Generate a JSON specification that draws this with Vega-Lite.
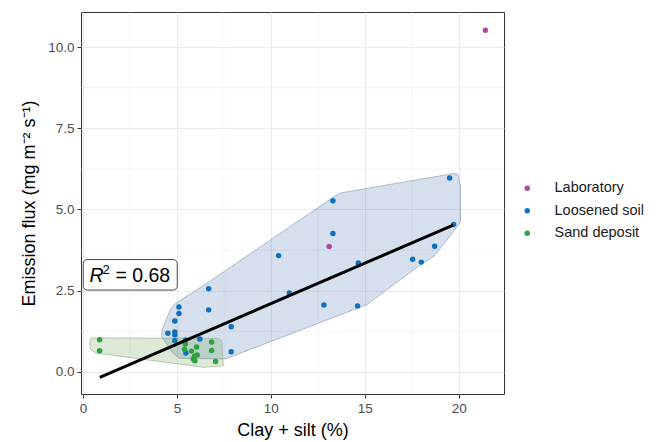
{
  "$schema": "https://vega.github.io/schema/vega-lite/v6.json",
  "autosize": "none",
  "width": 423,
  "height": 382,
  "padding": {"left": 81, "top": 12, "right": 158, "bottom": 48},
  "background": "white",
  "config": {
    "font": "Liberation Sans",
    "view": {"stroke": "#333333", "strokeWidth": 1},
    "axis": {
      "gridColor": "#ebebeb", "gridWidth": 1.1, "domain": false,
      "tickColor": "#333333", "tickSize": 4, "labelColor": "#4d4d4d",
      "labelFontSize": 13.5, "titleFontSize": 18, "titleFontWeight": "normal",
      "titleColor": "#000000", "labelPadding": 3
    }
  },
  "datasets": {
    "points": [
      {"x": 19.51, "y": 5.97, "type": "Loosened soil"},
      {"x": 19.72, "y": 4.54, "type": "Loosened soil"},
      {"x": 13.30, "y": 5.27, "type": "Loosened soil"},
      {"x": 13.30, "y": 4.26, "type": "Loosened soil"},
      {"x": 10.41, "y": 3.58, "type": "Loosened soil"},
      {"x": 18.71, "y": 3.87, "type": "Loosened soil"},
      {"x": 17.54, "y": 3.47, "type": "Loosened soil"},
      {"x": 18.00, "y": 3.38, "type": "Loosened soil"},
      {"x": 14.65, "y": 3.35, "type": "Loosened soil"},
      {"x": 10.98, "y": 2.43, "type": "Loosened soil"},
      {"x": 12.82, "y": 2.06, "type": "Loosened soil"},
      {"x": 14.61, "y": 2.03, "type": "Loosened soil"},
      {"x": 6.69, "y": 2.56, "type": "Loosened soil"},
      {"x": 6.69, "y": 1.91, "type": "Loosened soil"},
      {"x": 5.11, "y": 2.00, "type": "Loosened soil"},
      {"x": 5.11, "y": 1.80, "type": "Loosened soil"},
      {"x": 4.89, "y": 1.57, "type": "Loosened soil"},
      {"x": 4.52, "y": 1.19, "type": "Loosened soil"},
      {"x": 4.89, "y": 1.23, "type": "Loosened soil"},
      {"x": 4.89, "y": 1.14, "type": "Loosened soil"},
      {"x": 4.89, "y": 0.96, "type": "Loosened soil"},
      {"x": 5.46, "y": 0.98, "type": "Loosened soil"},
      {"x": 7.89, "y": 1.39, "type": "Loosened soil"},
      {"x": 7.89, "y": 0.62, "type": "Loosened soil"},
      {"x": 6.22, "y": 1.01, "type": "Loosened soil"},
      {"x": 5.48, "y": 0.58, "type": "Loosened soil"},
      {"x": 0.89, "y": 0.99, "type": "Sand deposit"},
      {"x": 0.89, "y": 0.65, "type": "Sand deposit"},
      {"x": 5.45, "y": 0.86, "type": "Sand deposit"},
      {"x": 5.41, "y": 0.70, "type": "Sand deposit"},
      {"x": 5.78, "y": 0.64, "type": "Sand deposit"},
      {"x": 6.05, "y": 0.77, "type": "Sand deposit"},
      {"x": 6.08, "y": 0.52, "type": "Sand deposit"},
      {"x": 5.94, "y": 0.48, "type": "Sand deposit"},
      {"x": 5.87, "y": 0.40, "type": "Sand deposit"},
      {"x": 5.96, "y": 0.34, "type": "Sand deposit"},
      {"x": 6.85, "y": 0.92, "type": "Sand deposit"},
      {"x": 6.85, "y": 0.66, "type": "Sand deposit"},
      {"x": 7.06, "y": 0.32, "type": "Sand deposit"},
      {"x": 21.41, "y": 10.52, "type": "Laboratory"},
      {"x": 13.10, "y": 3.86, "type": "Laboratory"}
    ],
    "hullBlue": [
      {"i": 1, "x": 19.73, "y": 6.11},
      {"i": 2, "x": 19.95, "y": 6.08},
      {"i": 3, "x": 20.09, "y": 5.70},
      {"i": 4, "x": 20.09, "y": 4.63},
      {"i": 5, "x": 19.65, "y": 4.27},
      {"i": 6, "x": 18.67, "y": 3.56},
      {"i": 7, "x": 17.61, "y": 3.15},
      {"i": 8, "x": 15.13, "y": 2.08},
      {"i": 9, "x": 13.53, "y": 1.72},
      {"i": 10, "x": 8.03, "y": 0.50},
      {"i": 11, "x": 7.59, "y": 0.40},
      {"i": 12, "x": 5.11, "y": 0.42},
      {"i": 13, "x": 4.76, "y": 0.60},
      {"i": 14, "x": 4.19, "y": 1.09},
      {"i": 15, "x": 4.22, "y": 1.31},
      {"i": 16, "x": 4.66, "y": 1.93},
      {"i": 17, "x": 4.93, "y": 2.11},
      {"i": 18, "x": 6.62, "y": 2.74},
      {"i": 19, "x": 13.35, "y": 5.39},
      {"i": 20, "x": 13.71, "y": 5.51}
    ],
    "hullGreen": [
      {"i": 1, "x": 0.41, "y": 1.03},
      {"i": 2, "x": 0.59, "y": 1.05},
      {"i": 3, "x": 7.23, "y": 1.03},
      {"i": 4, "x": 7.38, "y": 0.96},
      {"i": 5, "x": 7.47, "y": 0.19},
      {"i": 6, "x": 6.44, "y": 0.14},
      {"i": 7, "x": 6.17, "y": 0.16},
      {"i": 8, "x": 0.68, "y": 0.58},
      {"i": 9, "x": 0.41, "y": 0.70},
      {"i": 10, "x": 0.36, "y": 0.86}
    ],
    "fit": [
      {"x": 0.90, "y": -0.17},
      {"x": 19.70, "y": 4.52}
    ],
    "minorX": [{"v": 2.5}, {"v": 7.5}, {"v": 12.5}, {"v": 17.5}],
    "minorY": [{"v": 1.25}, {"v": 3.75}, {"v": 6.25}, {"v": 8.75}],
    "labelBox": [{"x1": 0.02, "x2": 5.02, "y1": 2.52, "y2": 3.46, "lx": 0.35, "ly": 2.99}]
  },
  "layer": [
    {
      "data": {"name": "minorX"},
      "mark": {"type": "rule", "stroke": "#ebebeb", "strokeWidth": 0.55},
      "encoding": {
        "x": {"field": "v", "type": "quantitative",
          "scale": {"domain": [-0.1, 22.4], "nice": false, "zero": false},
          "axis": {"values": [0, 5, 10, 15, 20], "format": "d", "title": "Clay + silt (%)", "titlePadding": 7}
        }
      }
    },
    {
      "data": {"name": "minorY"},
      "mark": {"type": "rule", "stroke": "#ebebeb", "strokeWidth": 0.55},
      "encoding": {
        "y": {"field": "v", "type": "quantitative",
          "scale": {"domain": [-0.68, 11.08], "nice": false, "zero": false},
          "axis": {"values": [0, 2.5, 5, 7.5, 10], "format": ".1f", "title": "Emission flux (mg m⁻² s⁻¹)", "titlePadding": 9}
        }
      }
    },
    {
      "data": {"name": "hullBlue"},
      "mark": {"type": "line", "interpolate": "linear-closed", "fill": "#2c5da3", "fillOpacity": 0.2, "stroke": "#8a9cb0", "strokeOpacity": 0.8, "strokeWidth": 0.8},
      "encoding": {
        "x": {"field": "x", "type": "quantitative"},
        "y": {"field": "y", "type": "quantitative"},
        "order": {"field": "i", "type": "quantitative"}
      }
    },
    {
      "data": {"name": "hullGreen"},
      "mark": {"type": "line", "interpolate": "linear-closed", "fill": "#4b9132", "fillOpacity": 0.2, "stroke": "#98ad90", "strokeOpacity": 0.8, "strokeWidth": 0.8},
      "encoding": {
        "x": {"field": "x", "type": "quantitative"},
        "y": {"field": "y", "type": "quantitative"},
        "order": {"field": "i", "type": "quantitative"}
      }
    },
    {
      "data": {"name": "points"},
      "mark": {"type": "point", "filled": true, "size": 30, "opacity": 1},
      "encoding": {
        "x": {"field": "x", "type": "quantitative"},
        "y": {"field": "y", "type": "quantitative"},
        "color": {"field": "type", "type": "nominal",
          "scale": {"domain": ["Laboratory", "Loosened soil", "Sand deposit"], "range": ["#ad4ba3", "#1170bb", "#2ca33c"]},
          "legend": {"title": null, "orient": "none", "legendX": 439, "legendY": 169, "padding": 0,
            "symbolSize": 30, "symbolType": "circle", "labelFontSize": 14.5, "labelColor": "#1a1a1a",
            "labelOffset": 20, "rowPadding": 7.5}
        }
      }
    },
    {
      "data": {"name": "fit"},
      "mark": {"type": "line", "stroke": "#000000", "strokeWidth": 3},
      "encoding": {
        "x": {"field": "x", "type": "quantitative"},
        "y": {"field": "y", "type": "quantitative"}
      }
    },
    {
      "data": {"name": "labelBox"},
      "mark": {"type": "rect", "fill": "white", "stroke": "#333333", "strokeWidth": 0.9, "cornerRadius": 4},
      "encoding": {
        "x": {"field": "x1", "type": "quantitative"},
        "x2": {"field": "x2"},
        "y": {"field": "y1", "type": "quantitative"},
        "y2": {"field": "y2"}
      }
    },
    {
      "data": {"name": "labelBox"},
      "mark": {"type": "text", "text": "R", "fontStyle": "italic", "fontSize": 19.5, "align": "left", "baseline": "alphabetic", "dy": 7, "color": "#000000"},
      "encoding": {
        "x": {"field": "lx", "type": "quantitative"},
        "y": {"field": "ly", "type": "quantitative"}
      }
    },
    {
      "data": {"name": "labelBox"},
      "mark": {"type": "text", "text": "2", "fontSize": 13, "align": "left", "baseline": "alphabetic", "dx": 13, "dy": -1, "color": "#000000"},
      "encoding": {
        "x": {"field": "lx", "type": "quantitative"},
        "y": {"field": "ly", "type": "quantitative"}
      }
    },
    {
      "data": {"name": "labelBox"},
      "mark": {"type": "text", "text": "= 0.68", "fontSize": 19.5, "align": "left", "baseline": "alphabetic", "dx": 26, "dy": 7, "color": "#000000"},
      "encoding": {
        "x": {"field": "lx", "type": "quantitative"},
        "y": {"field": "ly", "type": "quantitative"}
      }
    }
  ]
}
